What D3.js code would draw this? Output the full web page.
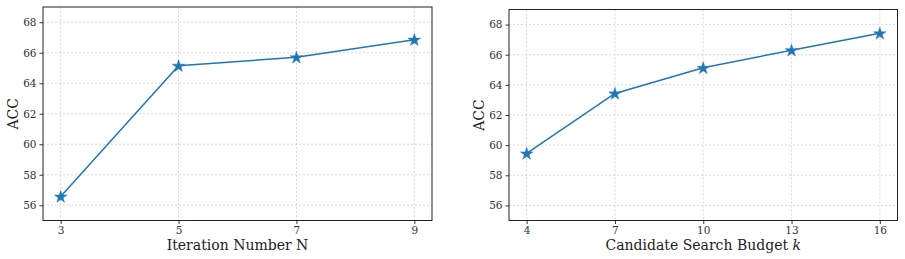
<!DOCTYPE html>
<html><head><meta charset="utf-8">
<script src="https://cdn.jsdelivr.net/npm/d3@7"></script>
<style>body{margin:0;background:#fff}svg{display:block}</style>
</head><body>
<svg id="c" width="905" height="259"></svg>
<script>
const iterX = [3, 5, 7, 9];
const iterAcc = [56.57, 65.15, 65.70, 66.86];
const budgetX = [4, 7, 10, 13, 16];
const budgetAcc = [59.45, 63.43, 65.13, 66.30, 67.42];
const yTicks = [56, 58, 60, 62, 64, 66, 68];
const leftXLabel = "Iteration Number N";
const rightXLabel = "Candidate Search Budget ";

const svg = d3.select("#c");
const font = "DejaVu Serif";
const color = "#1f77b4";

function panel(box, xs, ys, xDomain, xLabelFn, yLabelX) {
  const g = svg.append("g");
  const x = d3.scaleLinear().domain(xDomain).range([box.l, box.r]);
  const y = d3.scaleLinear().domain([55, 69]).range([box.b, box.t]);
  // grid
  g.selectAll(".gx").data(xs).join("line")
    .attr("x1", d => x(d)).attr("x2", d => x(d)).attr("y1", box.t).attr("y2", box.b)
    .attr("stroke", "#b0b0b0").attr("stroke-width", 0.8).attr("stroke-dasharray", "2,2").attr("opacity", 0.6);
  g.selectAll(".gy").data(yTicks).join("line")
    .attr("x1", box.l).attr("x2", box.r).attr("y1", d => y(d)).attr("y2", d => y(d))
    .attr("stroke", "#b0b0b0").attr("stroke-width", 0.8).attr("stroke-dasharray", "2,2").attr("opacity", 0.6);
  // axes
  const xa = g.append("g").attr("transform", `translate(0,${box.b})`)
    .call(d3.axisBottom(x).tickValues(xs).tickFormat(d3.format("d")).tickSize(3.5).tickPadding(3).tickSizeOuter(0));
  const ya = g.append("g").attr("transform", `translate(${box.l},0)`)
    .call(d3.axisLeft(y).tickValues(yTicks).tickFormat(d3.format("d")).tickSize(3.5).tickPadding(3).tickSizeOuter(0));
  [xa, ya].forEach(a => {
    a.select(".domain").remove();
    a.selectAll("line").attr("stroke", "#222").attr("stroke-width", 0.9);
    a.selectAll("text").attr("font-family", font).attr("font-size", 10.5).attr("fill", "#333");
  });
  g.append("rect").attr("x", box.l).attr("y", box.t).attr("width", box.r - box.l).attr("height", box.b - box.t)
    .attr("fill", "none").attr("stroke", "#222").attr("stroke-width", 1);
  // line
  const pts = xs.map((d, i) => [x(d), y(ys[i])]);
  g.append("path").attr("d", d3.line()(pts)).attr("fill", "none").attr("stroke", color).attr("stroke-width", 1.5);
  g.selectAll(".m").data(pts).join("path")
    .attr("d", d3.symbol(d3.symbolStar, 48)())
    .attr("transform", d => `translate(${d[0]},${d[1] + 0.5})`)
    .attr("fill", color).attr("stroke", color).attr("stroke-width", 0.5);
  // labels
  const xl = g.append("text").attr("x", (box.l + box.r) / 2).attr("y", 250)
    .attr("text-anchor", "middle").attr("font-family", font).attr("font-size", 14).attr("fill", "#222");
  xLabelFn(xl);
  g.append("text").attr("transform", `translate(${yLabelX},${(box.t + box.b) / 2}) rotate(-90)`)
    .attr("text-anchor", "middle").attr("font-family", font).attr("font-size", 14).attr("fill", "#222").text("ACC");
}

panel({l: 43, r: 432, t: 7, b: 220.5}, iterX, iterAcc, [2.7, 9.3],
  t => t.text(leftXLabel), 18);
panel({l: 509, r: 897.5, t: 9.5, b: 220.5}, budgetX, budgetAcc, [3.4, 16.6],
  t => { t.append("tspan").text(rightXLabel); t.append("tspan").attr("font-style", "italic").text("k"); }, 484);
</script>
</body></html>
